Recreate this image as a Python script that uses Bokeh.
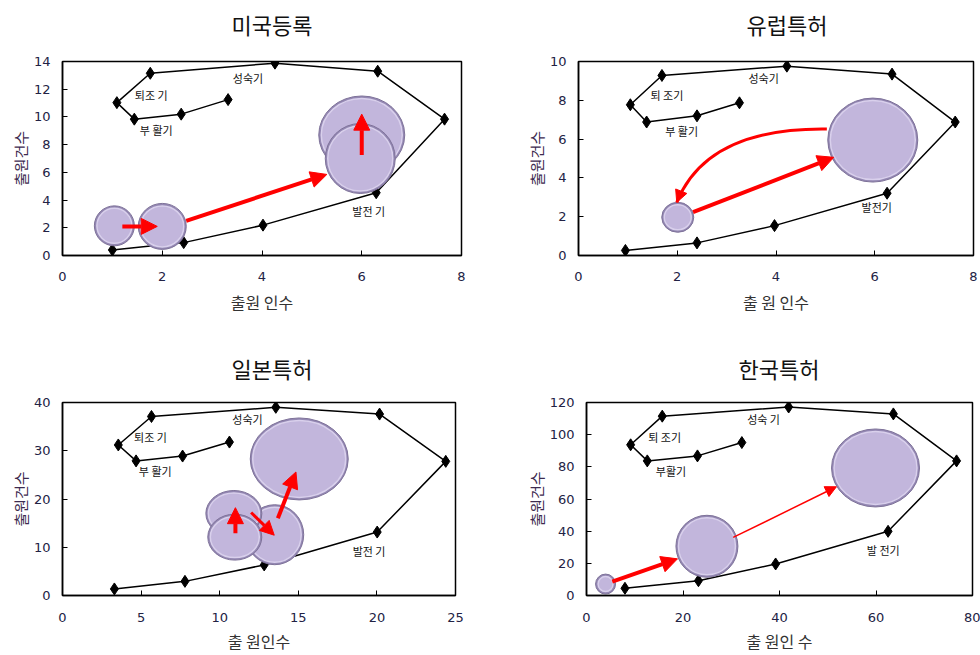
from bokeh.plotting import figure
from bokeh.layouts import column, row
from bokeh.models import Range1d, FixedTicker, Arrow, NormalHead, ColumnDataSource, Title
from bokeh.core.properties import value
from bokeh.embed import file_html
from bokeh.resources import INLINE

KR = "Noto Sans CJK KR"

# ---------------- data ----------------
# 미국등록
us_cx = [1.0, 2.43, 4.02, 6.29, 7.66, 6.32, 4.26, 1.76, 1.09, 1.44, 2.38, 3.32]
us_cy = [0.4, 0.93, 2.19, 4.53, 9.84, 13.3, 13.88, 13.15, 11.03, 9.84, 10.2, 11.25]
us_lx = [3.72, 1.78, 1.88, 6.14]
us_ly = [12.8, 11.6, 9.08, 3.24]
us_lt = ["성숙기", "퇴조 기", "부 활기", "발전 기"]
us_bx = [1.04, 2.0, 6.0, 5.97]
us_by = [2.14, 2.1, 8.7, 7.0]
us_bw = [40, 48, 86, 70]
us_bh = [40, 46, 78, 70]
us_ax0 = [1.2, 2.48, 6.0]
us_ay0 = [2.1, 2.5, 7.26]
us_ax1 = [1.9, 5.3, 6.0]
us_ay1 = [2.1, 5.85, 10.2]
us_aw = [4, 4, 4]

# 유럽특허
eu_cx = [0.95, 2.40, 3.97, 6.25, 7.63, 6.35, 4.22, 1.69, 1.05, 1.38, 2.40, 3.26]
eu_cy = [0.26, 0.65, 1.54, 3.21, 6.88, 9.35, 9.76, 9.28, 7.77, 6.88, 7.2, 7.87]
eu_lx = [3.75, 1.79, 2.09, 6.04]
eu_ly = [9.14, 8.27, 6.4, 2.49]
eu_lt = ["성숙기", "퇴 조기", "부 활기", "발전기"]
eu_bx = [2.01, 5.96]
eu_by = [1.97, 5.95]
eu_bw = [32, 90]
eu_bh = [30, 84]
eu_ax0 = [2.32]
eu_ay0 = [2.23]
eu_ax1 = [5.17]
eu_ay1 = [5.06]
eu_aw = [4]
# curved arrow (quadratic): start, control, end
eu_qx = [5.03, 2.6, 1.99]
eu_qy = [6.52, 6.6, 2.74]

# 일본특허
jp_cx = [3.30, 7.79, 12.83, 20.02, 24.38, 20.17, 13.57, 5.66, 3.55, 4.68, 7.64, 10.62]
jp_cy = [1.36, 2.93, 6.34, 13.15, 27.8, 37.6, 39.0, 37.1, 31.2, 27.9, 28.9, 31.8]
jp_lx = [11.77, 5.6, 5.9, 19.5]
jp_ly = [36.6, 32.8, 25.8, 9.3]
jp_lt = ["성숙기", "퇴조 기", "부 활기", "발전 기"]
jp_bx = [15.06, 13.5, 10.9, 10.96]
jp_by = [28.3, 12.6, 17.0, 12.1]
jp_bw = [98, 58, 56, 54]
jp_bh = [82, 60, 46, 46]
jp_ax0 = [11.0, 12.0, 13.7]
jp_ay0 = [12.9, 17.2, 16.0]
jp_ax1 = [11.0, 13.47, 14.85]
jp_ay1 = [18.2, 12.5, 25.6]
jp_aw = [4, 3, 4]

# 한국특허
kr_cx = [7.97, 23.2, 39.2, 62.5, 76.7, 63.6, 41.9, 15.7, 9.15, 12.6, 23.0, 32.2]
kr_cy = [4.48, 9.2, 19.6, 39.9, 83.7, 112.9, 117.2, 111.5, 93.7, 83.7, 86.8, 95.1]
kr_lx = [36.7, 16.2, 17.5, 61.5]
kr_ly = [109.8, 98.6, 77.6, 28.3]
kr_lt = ["성숙 기", "퇴 조기", "부활기", "발 전기"]
kr_bx = [3.95, 24.96, 59.9]
kr_by = [7.1, 30.6, 79.3]
kr_bw = [20, 62, 88]
kr_bh = [20, 62, 78]
kr_ax0 = [5.34, 30.4]
kr_ay0 = [8.56, 36.1]
kr_ax1 = [18.86, 51.8]
kr_ay1 = [22.8, 67.6]
kr_aw = [4, 1.5]

# ---------------- helpers ----------------
TICK_COLOR = "#222244"


def make_fig(title, xlab, xmax, ymax, xticks, yticks, w, h, bl, br, bt, bb,
             spacer, toff, xstand, xlstand):
    p = figure(width=w, height=h, output_backend="svg", toolbar_location=None,
               title=None,
               x_range=Range1d(0, xmax), y_range=Range1d(0, ymax),
               min_border_left=bl, min_border_right=br,
               min_border_top=bt, min_border_bottom=bb)
    p.add_layout(Title(text=" ", text_font_size=spacer, standoff=0), "above")
    p.add_layout(Title(text=title, align="left", offset=toff, text_font=KR,
                       text_font_size="22px", text_font_style="normal",
                       text_color="#111111"), "above")
    p.grid.visible = False
    p.outline_line_color = "black"
    p.outline_line_width = 1.5
    p.outline_line_alpha = 1
    for ax in (p.xaxis, p.yaxis):
        ax.axis_line_color = "black"
        ax.axis_line_width = 1.5
        ax.major_tick_in = 5
        ax.major_tick_out = 0
        ax.minor_tick_line_color = None
        ax.major_label_text_font = "DejaVu Sans"
        ax.major_label_text_font_size = "13px"
        ax.major_label_text_color = TICK_COLOR
    p.xaxis.ticker = FixedTicker(ticks=xticks)
    p.yaxis.ticker = FixedTicker(ticks=yticks)
    p.xaxis.major_label_standoff = xstand
    p.yaxis.major_label_standoff = 12
    p.xaxis.axis_label = xlab
    p.yaxis.axis_label = "출원건수"
    p.xaxis.axis_label_text_font = KR
    p.yaxis.axis_label_text_font = KR
    p.xaxis.axis_label_text_font_size = "16px"
    p.yaxis.axis_label_text_font_size = "15px"
    p.xaxis.axis_label_text_font_style = "normal"
    p.yaxis.axis_label_text_font_style = "normal"
    p.xaxis.axis_label_text_color = "#333333"
    p.yaxis.axis_label_text_color = "#3d2b4f"
    p.xaxis.axis_label_standoff = xlstand
    p.yaxis.axis_label_standoff = 0
    return p


def draw_cycle(p, cx, cy, lx, ly, lt):
    p.line(cx, cy, line_color="black", line_width=1.5)
    p.scatter(cx, cy, marker="diamond", size=12, fill_color="black", line_color="black")
    p.text(lx, ly, text=lt, text_font=value(KR), text_font_size="11px",
           text_color="#111111", text_align="center", text_baseline="middle")


def draw_bubbles(p, bx, by, bw, bh):
    for x, y, w, h in zip(bx, by, bw, bh):
        s = ColumnDataSource(dict(x=[x], y=[y], w=[w], h=[h], wi=[w - 5], hi=[h - 5]))
        p.ellipse(x="x", y="y", width="w", height="h", width_units="screen",
                  height_units="screen", source=s, fill_color="#9488b3",
                  line_color="#7e7299", line_width=1)
        p.ellipse(x="x", y="y", width="wi", height="hi", width_units="screen",
                  height_units="screen", source=s, fill_color="#c2b6dc",
                  line_color="#d9d0ec", line_width=1.5)


def draw_arrows(p, x0, y0, x1, y1, lw):
    for a, b, c, d, w in zip(x0, y0, x1, y1, lw):
        head = NormalHead(size=8 + 2 * w, fill_color="red", line_color="red")
        p.add_layout(Arrow(end=head, x_start=a, y_start=b, x_end=c, y_end=d,
                           line_color="red", line_width=w))


# ---------------- figures ----------------
p1 = make_fig("미국등록", "출원 인수", 8, 14, [0, 2, 4, 6, 8], list(range(0, 15, 2)),
              490, 326, 62, 29, 61, 70, "13px", 169, 16, 6)
draw_cycle(p1, us_cx, us_cy, us_lx, us_ly, us_lt)
draw_bubbles(p1, us_bx, us_by, us_bw, us_bh)
draw_arrows(p1, us_ax0, us_ay0, us_ax1, us_ay1, us_aw)

p2 = make_fig("유럽특허", "출 원 인수", 8, 10, [0, 2, 4, 6, 8], list(range(0, 11, 2)),
              490, 326, 88, 7, 61, 71, "13px", 168, 16, 6)
draw_cycle(p2, eu_cx, eu_cy, eu_lx, eu_ly, eu_lt)
draw_bubbles(p2, eu_bx, eu_by, eu_bw, eu_bh)
draw_arrows(p2, eu_ax0, eu_ay0, eu_ax1, eu_ay1, eu_aw)
p2.quadratic(x0=[eu_qx[0]], y0=[eu_qy[0]], cx=[eu_qx[1]], cy=[eu_qy[1]],
             x1=[eu_qx[2]], y1=[eu_qy[2]], line_color="red", line_width=3)
t = 0.04
p2.add_layout(Arrow(end=NormalHead(size=12, fill_color="red", line_color="red"),
                    x_start=eu_qx[2] + t * (eu_qx[1] - eu_qx[2]),
                    y_start=eu_qy[2] + t * (eu_qy[1] - eu_qy[2]),
                    x_end=eu_qx[2], y_end=eu_qy[2], line_color="red", line_width=3))

p3 = make_fig("일본특허", "출 원인수", 25, 40, [0, 5, 10, 15, 20, 25], list(range(0, 41, 10)),
              490, 329, 62, 35, 76, 59, "11px", 169, 17, 4)
draw_cycle(p3, jp_cx, jp_cy, jp_lx, jp_ly, jp_lt)
draw_bubbles(p3, jp_bx, jp_by, jp_bw, jp_bh)
draw_arrows(p3, jp_ax0, jp_ay0, jp_ax1, jp_ay1, jp_aw)

p4 = make_fig("한국특허", "출 원인 수", 80, 120, [0, 20, 40, 60, 80], list(range(0, 121, 20)),
              490, 329, 96, 8, 76, 59, "11px", 152, 17, 4)
draw_cycle(p4, kr_cx, kr_cy, kr_lx, kr_ly, kr_lt)
draw_bubbles(p4, kr_bx, kr_by, kr_bw, kr_bh)
draw_arrows(p4, kr_ax0, kr_ay0, kr_ax1, kr_ay1, kr_aw)

layout = column(row(p1, p2), row(p3, p4))
open("out.html", "w").write(file_html(layout, INLINE))
